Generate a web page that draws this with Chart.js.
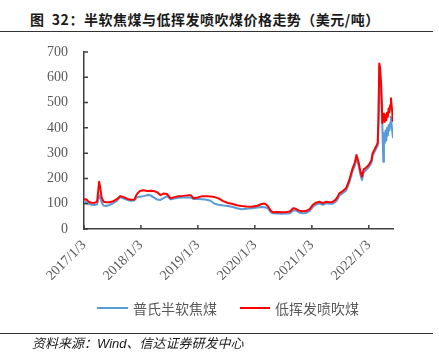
<!DOCTYPE html>
<html><head><meta charset="utf-8">
<script src="https://cdn.jsdelivr.net/npm/chart.js@4"></script>
<style>
body{margin:0;width:439px;height:360px;position:relative;background:#fff;overflow:hidden;font-family:"Noto Sans CJK SC",sans-serif}
#title{position:absolute;left:30px;top:10px;font-size:14px;line-height:18px;font-weight:bold;color:#1a1a1a;white-space:nowrap;letter-spacing:0.5px}
.rule{position:absolute;left:0;width:433px;height:1px;background:#333}
#wrap{position:absolute;left:0;top:0;width:439px;height:360px}
.legline{position:absolute;height:2px;top:307px}
.legtxt{position:absolute;top:299px;font-size:14px;line-height:18px;color:#595959;white-space:nowrap}
#src{position:absolute;left:32px;top:335px;font-size:13px;line-height:18px;font-style:italic;color:#1a1a1a;white-space:nowrap;font-family:"Liberation Sans","Noto Sans CJK SC",sans-serif}
</style></head>
<body>
<div id="title">图&nbsp;&nbsp;32：半软焦煤与低挥发喷吹煤价格走势（美元/吨）</div>
<div class="rule" style="top:31px"></div>
<div id="wrap"><canvas id="c" width="439" height="360"></canvas></div>
<div class="legline" style="left:97px;width:31px;background:#5B9BD5"></div>
<div class="legtxt" style="left:133px">普氏半软焦煤</div>
<div class="legline" style="left:240px;width:30px;background:#FF0000"></div>
<div class="legtxt" style="left:275px">低挥发喷吹煤</div>
<div class="rule" style="top:333px"></div>
<div id="src">资料来源：Wind、信达证券研发中心</div>
<script>
const seriesNames = ["普氏半软焦煤", "低挥发喷吹煤"];
const dates = [
"2017-01-03","2017-01-17","2017-02-01","2017-02-20","2017-03-10","2017-03-28","2017-04-10","2017-04-17","2017-04-26","2017-05-08","2017-05-25","2017-06-15","2017-07-10","2017-08-01","2017-08-24","2017-09-15","2017-10-10","2017-11-01","2017-11-22","2017-12-08","2017-12-26",
"2018-01-20","2018-02-12","2018-03-05","2018-03-25","2018-04-15","2018-05-08","2018-05-28","2018-06-20","2018-07-12","2018-08-05","2018-09-01","2018-10-01","2018-10-29","2018-11-20","2018-12-05",
"2019-01-03","2019-02-01","2019-03-01","2019-03-25","2019-04-17","2019-05-15","2019-06-15","2019-07-15","2019-08-15","2019-09-10","2019-10-10","2019-11-10","2019-12-15",
"2020-01-20","2020-02-15","2020-03-05","2020-03-25","2020-04-15","2020-04-28","2020-05-25","2020-06-25","2020-07-25","2020-08-15","2020-09-05","2020-09-22","2020-10-10","2020-11-01","2020-11-25","2020-12-20",
"2021-01-10","2021-01-30","2021-02-20","2021-03-15","2021-04-05","2021-04-25","2021-05-15","2021-06-01","2021-06-15","2021-06-28","2021-07-20","2021-08-10","2021-08-30","2021-09-21","2021-10-05","2021-10-16","2021-10-28","2021-11-10","2021-11-20","2021-12-01","2021-12-15",
"2022-01-03","2022-01-20","2022-01-27","2022-02-17","2022-03-01","2022-03-06","2022-03-11","2022-03-16","2022-03-24","2022-03-31","2022-04-06","2022-04-10","2022-04-15","2022-04-20","2022-04-25","2022-04-30","2022-05-05","2022-05-10","2022-05-15","2022-05-20","2022-05-25","2022-05-31","2022-06-07"
];
const pvSemiSoft = [
108,106,100,96,95,98,134,125,105,93,91,95,102,112,126,120,114,112,113,125,128,
130,134,133,125,117,115,122,130,118,121,124,125,126,124,119,
119,118,116,112,101,96,93,91,87,82,78,80,82,
85,87,86,83,66,62,61,60,61,62,72,74,66,62,63,72,
88,97,101,96,102,100,100,106,115,133,142,152,182,230,250,282,255,215,194,225,232,
245,262,290,315,330,420,640,610,520,400,266,380,340,390,350,400,370,410,390,420,444,400,359
];
const lowVolPCI = [
117,118,108,104,103,108,187,165,125,108,106,106,110,118,130,126,119,116,117,138,150,
153,150,151,150,146,134,140,138,121,126,130,131,133,133,122,
125,130,130,129,127,121,110,103,99,94,91,89,88,
92,99,101,92,72,66,67,66,67,69,82,80,73,70,71,79,
96,104,108,102,108,106,107,114,125,141,150,161,192,240,262,293,268,228,207,236,242,
253,272,299,325,340,444,655,640,560,418,440,457,424,452,430,460,444,477,462,490,517,477,424
];
const tickDates = ["2017-01-03","2018-01-03","2019-01-03","2020-01-03","2021-01-03","2022-01-03"];
const tickLabels = ["2017/1/3","2018/1/3","2019/1/3","2020/1/3","2021/1/3","2022/1/3"];

const base = Date.UTC(2017,0,3);
const toDay = s => { const p = s.split('-').map(Number); return (Date.UTC(p[0],p[1]-1,p[2]) - base)/864e5; };
const xs = dates.map(toDay);
const tickDays = tickDates.map(toDay);

const inwardTicks = {
  id:'inwardTicks',
  afterDraw(chart){
    const ctx = chart.ctx, sx = chart.scales.x, sy = chart.scales.y;
    ctx.save(); ctx.strokeStyle = '#404040'; ctx.lineWidth = 1.5; ctx.beginPath();
    sy.ticks.forEach(t => { const y = sy.getPixelForValue(t.value); ctx.moveTo(sy.right, y); ctx.lineTo(sy.right + 4, y); });
    sx.ticks.forEach(t => { const x = sx.getPixelForValue(t.value); ctx.moveTo(x, sx.top); ctx.lineTo(x, sx.top - 4); });
    ctx.stroke(); ctx.restore();
  }
};

const tickFont = {family: '"Liberation Serif","Times New Roman",serif', size: 14};
new Chart(document.getElementById('c'), {
  type: 'line',
  data: {
    datasets: [
      {label: seriesNames[0], data: xs.map((x,i)=>({x, y: pvSemiSoft[i]})), borderColor:'#5B9BD5', borderWidth:2, borderJoinStyle:'round', pointRadius:0, tension:0, order:2},
      {label: seriesNames[1], data: xs.map((x,i)=>({x, y: lowVolPCI[i]})), borderColor:'#FF0000', borderWidth:2, borderJoinStyle:'round', pointRadius:0, tension:0, order:1}
    ]
  },
  options: {
    responsive:false, animation:false,
    layout:{padding:{left:0, top:52, right:46, bottom:0}},
    plugins:{legend:{display:false}, tooltip:{enabled:false}, title:{display:false}},
    scales:{
      x:{type:'linear', min:0, max:xs[xs.length-1],
        afterBuildTicks: s => { s.ticks = tickDays.map(v => ({value:v})); },
        afterFit: s => { s.height = 131; },
        grid:{display:true, drawOnChartArea:false, drawTicks:false},
        border:{display:true, color:'#404040', width:1.5},
        ticks:{autoSkip:false, maxRotation:45, minRotation:45, padding:8, color:'#595959', font:tickFont,
          callback:(v,i)=>tickLabels[i]}
      },
      y:{min:0, max:700,
        afterFit: s => { s.width = 84; },
        grid:{display:true, drawOnChartArea:false, drawTicks:false},
        border:{display:true, color:'#404040', width:1.5},
        ticks:{stepSize:100, padding:16, color:'#595959', font:tickFont}
      }
    }
  },
  plugins:[inwardTicks]
});
</script>
</body></html>
